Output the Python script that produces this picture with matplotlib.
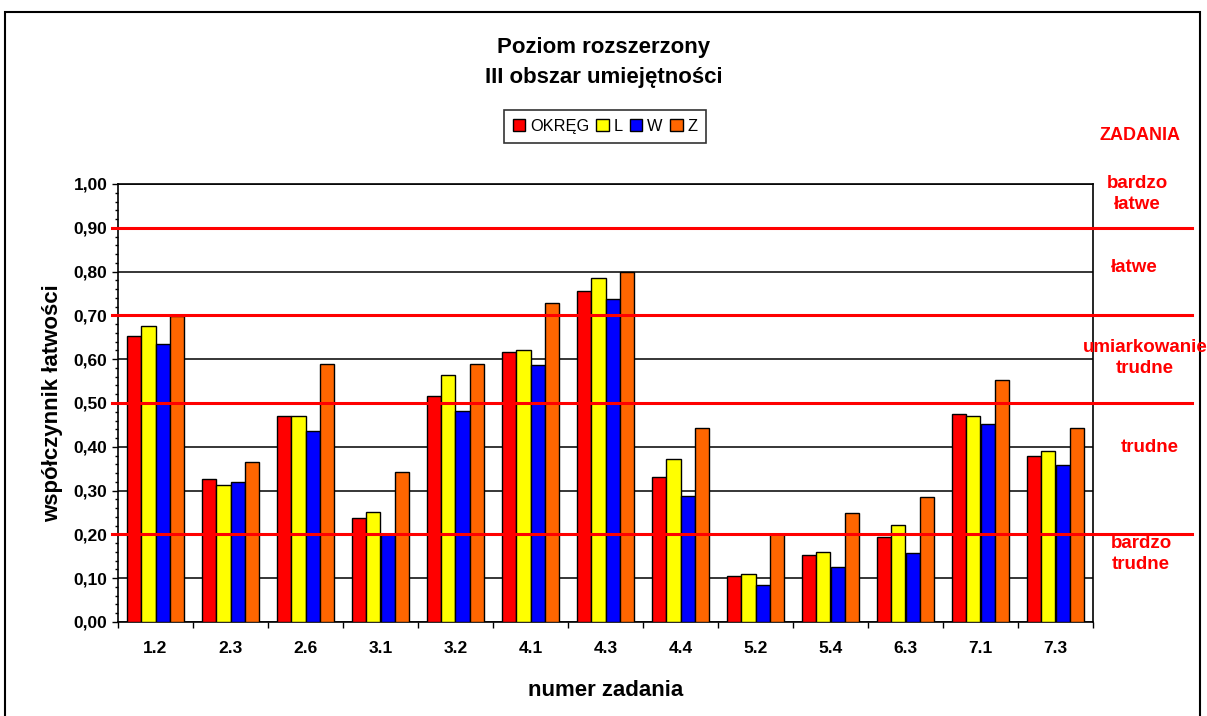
import numpy as np
import matplotlib
matplotlib.use("Agg")
import matplotlib.pyplot as plt
from matplotlib.patches import Rectangle
from matplotlib.ticker import MultipleLocator, FuncFormatter

plt.rcParams['font.family'] = ['Liberation Sans', 'DejaVu Sans']

# data
tasks = ["1.2", "2.3", "2.6", "3.1", "3.2", "4.1", "4.3", "4.4", "5.2", "5.4", "6.3", "7.1", "7.3"]
okreg = [0.654, 0.327, 0.470, 0.238, 0.516, 0.616, 0.755, 0.331, 0.106, 0.152, 0.193, 0.474, 0.380]
woj_l = [0.676, 0.313, 0.470, 0.252, 0.564, 0.621, 0.785, 0.373, 0.110, 0.159, 0.222, 0.470, 0.391]
woj_w = [0.635, 0.320, 0.437, 0.202, 0.482, 0.587, 0.737, 0.287, 0.084, 0.125, 0.158, 0.452, 0.358]
woj_z = [0.699, 0.366, 0.590, 0.343, 0.590, 0.729, 0.800, 0.444, 0.200, 0.249, 0.286, 0.553, 0.444]
series_names = ["OKRĘG", "L", "W", "Z"]
series_colors = ["#FF0000", "#FFFF00", "#0000FF", "#FF6600"]

# difficulty thresholds and band labels
thresholds = [0.9, 0.7, 0.5, 0.2]
band_labels = ["bardzo\nłatwe", "łatwe", "umiarkowanie\ntrudne", "trudne", "bardzo\ntrudne"]
band_pos = [(1137, 194), (1134, 268), (1145, 358), (1150, 448), (1141, 554)]

W, H = 1207, 716
fig = plt.figure(figsize=(W / 100, H / 100), dpi=100)
ax = fig.add_axes([118 / W, 1 - 622 / H, (1093 - 118) / W, (622 - 184) / H])

x = np.arange(len(tasks))
bw = 0.187
all_series = [okreg, woj_l, woj_w, woj_z]
for i, (vals, name, col) in enumerate(zip(all_series, series_names, series_colors)):
    ax.bar(x + (i - 1.5) * bw, vals, width=bw, color=col, edgecolor="black",
           linewidth=1.0, label=name, zorder=3)

ax.set_xlim(-0.5, len(tasks) - 0.5)
ax.set_ylim(0, 1.0)

ax.yaxis.set_major_locator(MultipleLocator(0.1))
ax.yaxis.set_minor_locator(MultipleLocator(0.02))
ax.yaxis.set_major_formatter(FuncFormatter(lambda v, p: f"{v:.2f}".replace(".", ",")))
ax.grid(axis="y", which="major", color="black", linewidth=1.1, zorder=1)

ax.set_xticks(np.arange(-0.5, len(tasks), 1.0))
ax.set_xticklabels([])
ax.set_xticks(x, minor=True)
ax.set_xticklabels(tasks, minor=True)
ax.tick_params(axis="x", which="major", direction="out", length=4, width=1)
ax.tick_params(axis="x", which="minor", length=0, pad=14, labelsize=12.5)
ax.tick_params(axis="y", which="major", direction="out", length=4, width=1, labelsize=12.5)
ax.tick_params(axis="y", which="minor", direction="out", length=2.5, width=1)
for lab in ax.get_xticklabels(minor=True) + ax.get_yticklabels():
    lab.set_fontweight("bold")
for sp in ax.spines.values():
    sp.set_linewidth(1.2)
    sp.set_color("black")

# red threshold lines running past the plot area
for t in thresholds:
    ax.axhline(t, xmin=-0.006, xmax=1.1015, color="#FF0000", linewidth=2.2,
               clip_on=False, zorder=4)

ax.set_xlabel("numer zadania", fontsize=16, fontweight="bold", labelpad=17)
ax.set_ylabel("współczynnik łatwości", fontsize=16, fontweight="bold", labelpad=8)

fig.text(604 / W, 1 - 48 / H, "Poziom rozszerzony", ha="center", va="center",
         fontsize=16, fontweight="bold")
fig.text(604 / W, 1 - 77 / H, "III obszar umiejętności", ha="center", va="center",
         fontsize=16, fontweight="bold")

leg = ax.legend(ncol=4, loc="center", bbox_to_anchor=(605 / W, 1 - 126.5 / H),
                bbox_transform=fig.transFigure, fontsize=11.8, frameon=True,
                fancybox=False, edgecolor="black", handlelength=0.75, handleheight=0.75,
                handletextpad=0.3, columnspacing=0.45, borderpad=0.55)
leg.get_frame().set_linewidth(1.2)

fig.text(1140 / W, 1 - 135 / H, "ZADANIA", ha="center", va="center",
         fontsize=13, fontweight="bold", color="#FF0000")
for lab, (px, py) in zip(band_labels, band_pos):
    fig.text(px / W, 1 - py / H, lab, ha="center", va="center", fontsize=13.5,
             fontweight="bold", color="#FF0000", linespacing=1.25)

# outer frame of the chart area
fig.patches.append(Rectangle((5 / W, -0.05), (1200 - 5) / W, 1.05 - 12 / H,
                             transform=fig.transFigure, fill=False,
                             edgecolor="black", linewidth=1.5))

fig.savefig("out.png", dpi=100)
